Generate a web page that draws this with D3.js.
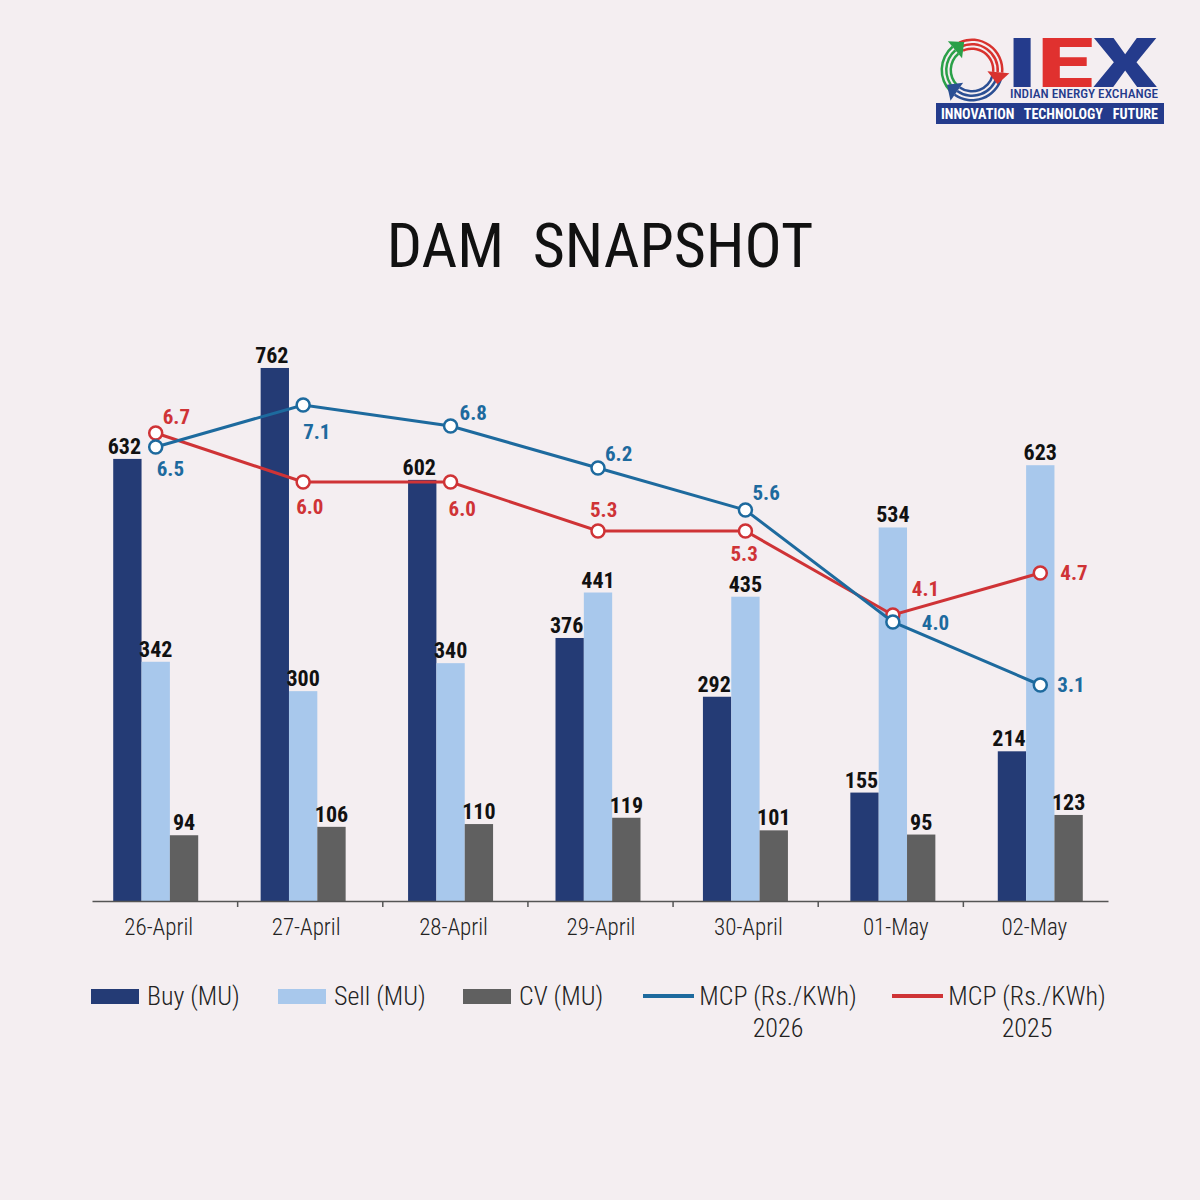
<!DOCTYPE html>
<meta charset="utf-8">
<style>
body{margin:0;background:#f4eef1;}
text{font-family:"Roboto Condensed","Roboto",sans-serif;font-stretch:75%;}
.val{font-weight:700;font-size:22px;fill:#111;text-anchor:middle;}
.mcp{font-weight:700;font-size:21px;dominant-baseline:central;}
.cat{font-size:23px;font-weight:300;fill:#222;text-anchor:middle;}
.leg{font-size:26px;font-weight:300;fill:#222;}
.title{font-size:62px;fill:#111;text-anchor:middle;white-space:pre;}
.axis path,.axis line{stroke:#555;stroke-width:1.5px;}
</style>
<body>
<script src="https://d3js.org/d3.v7.min.js"></script>
<script>

var categories=["26-April","27-April","28-April","29-April","30-April","01-May","02-May"];
var buy=[632,762,602,376,292,155,214];
var sell=[342,300,340,441,435,534,623];
var cv=[94,106,110,119,101,95,123];
var mcp2026=[6.5,7.1,6.8,6.2,5.6,4.0,3.1];
var mcp2025=[6.7,6.0,6.0,5.3,5.3,4.1,4.7];
var barSeries=["Buy (MU)","Sell (MU)","CV (MU)"];
var lineSeries=["MCP (Rs./KWh) 2026","MCP (Rs./KWh) 2025"];

var barColor=["#243b75","#a8c8ec","#606060"];
var blue="#1d6a9e", red="#cf3336";

var svg=d3.select("body").append("svg").attr("width",1200).attr("height",1200);
svg.append("rect").attr("width",1200).attr("height",1200).attr("fill","#f4eef1");

// title
svg.append("text").attr("class","title").attr("x",600).attr("y",267).text("DAM  SNAPSHOT");

// scales
var x=d3.scaleBand().domain(categories).range([82,1114]);
var xs=d3.scaleBand().domain([0,1,2]).range([-42.5,42.5]);
var y=d3.scaleLinear().domain([0,800]).range([901,341.4]);
var y2=d3.scaleLinear().domain([0,8]).range([902,342]);
var xEdge=d3.scaleLinear().domain([0,7]).range([92,1108]);
var cx=function(c){return x(c)+x.bandwidth()/2;};

// bars
var barData=[buy,sell,cv];
barData.forEach(function(vals,s){
	var g=svg.append("g");
	g.selectAll("rect").data(vals).enter().append("rect")
		.attr("x",(d,i)=>cx(categories[i])+xs(s))
		.attr("width",xs.bandwidth())
		.attr("y",d=>y(d))
		.attr("height",d=>y(0)-y(d))
		.attr("fill",barColor[s]);
	g.selectAll("text").data(vals).enter().append("text").attr("class","val")
		.attr("x",(d,i)=>cx(categories[i])+xs(s)+xs.bandwidth()/2-(s==0?3:0))
		.attr("y",d=>y(d)-5)
		.text(d=>d);
});

// x axis
svg.append("g").attr("class","axis").attr("transform","translate(0,901)")
	.call(d3.axisBottom(xEdge).tickValues(d3.range(1,7)).tickSize(6).tickSizeOuter(0).tickFormat(""));
svg.selectAll(".cat").data(categories).enter().append("text").attr("class","cat")
	.attr("x",(d,i)=>cx(d)+(i==6?-6:3)).attr("y",935).text(d=>d);

// lines
var line=d3.line().x((d,i)=>cx(categories[i])).y(d=>y2(d));
// label offsets [dx, dy] from the point, text anchored at start
var pos2026=[[1,22],[0,27],[9,-13],[7,-14],[7,-17],[29,1],[17,0]];
var pos2025=[[7,-16],[-7,25],[-2,27],[-8,-21],[-15,23],[19,-26],[20,0]];

function drawLine(vals,col,pos){
	var g=svg.append("g");
	g.append("path").datum(vals).attr("d",line).attr("fill","none")
		.attr("stroke",col).attr("stroke-width",3);
	return {g:g,vals:vals,col:col,pos:pos};
}
var L=[drawLine(mcp2025,red,pos2025),drawLine(mcp2026,blue,pos2026)];
L.forEach(function(l){
	l.g.selectAll("circle").data(l.vals).enter().append("circle")
		.attr("cx",(d,i)=>cx(categories[i])).attr("cy",d=>y2(d)).attr("r",6.5)
		.attr("fill","#fff").attr("stroke",l.col).attr("stroke-width",2.5);
	l.g.selectAll("text").data(l.vals).enter().append("text").attr("class","mcp")
		.attr("x",(d,i)=>cx(categories[i])+l.pos[i][0])
		.attr("y",(d,i)=>y2(d)+l.pos[i][1])
		.attr("fill",l.col)
		.text(d=>d3.format(".1f")(d));
});

// legend
var leg=svg.append("g");
var barLegX=[91,278,463];
barSeries.forEach(function(s,i){
	leg.append("rect").attr("x",barLegX[i]).attr("y",989).attr("width",48).attr("height",15).attr("fill",barColor[i]);
	leg.append("text").attr("class","leg").attr("x",barLegX[i]+56).attr("y",1005).text(s);
});
var lineLegX=[643,892];
[blue,red].forEach(function(col,i){
	var x0=lineLegX[i];
	leg.append("line").attr("x1",x0).attr("x2",x0+51).attr("y1",996).attr("y2",996)
		.attr("stroke",col).attr("stroke-width",4);
	var t=leg.append("text").attr("class","leg").attr("text-anchor","middle");
	var parts=lineSeries[i].split(" ");
	t.append("tspan").attr("x",x0+135).attr("y",1005).text(parts[0]+" "+parts[1]);
	t.append("tspan").attr("x",x0+135).attr("y",1037).text(parts[2]);
});

// logo
var logo=svg.append("g");
var em=logo.append("g").attr("transform","translate(972,70)");
var arc=d3.arc();
function stripes(a0,a1,col){
	[0,1,2].forEach(function(k){
		em.append("path").attr("d",arc({innerRadius:20+k*4.5,outerRadius:22.5+k*4.5,startAngle:a0,endAngle:a1}))
			.attr("fill",col);
	});
}
var rad=Math.PI/180;
stripes(-25*rad,95*rad,"#d8322e");
stripes(105*rad,215*rad,"#2b4f93");
stripes(225*rad,320*rad,"#2aa048");
function head(a,col){
	var r=26.5, px=r*Math.sin(a), py=-r*Math.cos(a);
	var tx=Math.cos(a), ty=Math.sin(a);
	var nx=Math.sin(a), ny=-Math.cos(a);
	em.append("path").attr("d","M"+(px+nx*11)+","+(py+ny*11)+"L"+(px-nx*11)+","+(py-ny*11)+"L"+(px+tx*12)+","+(py+ty*12)+"Z")
		.attr("fill",col);
}
head(95*rad,"#d8322e");
head(215*rad,"#2b4f93");
head(320*rad,"#2aa048");
logo.append("text").attr("x",1007).attr("y",87).attr("font-size",68).attr("font-weight",900)
	.style("font-family","'Roboto','Liberation Sans',sans-serif").style("font-stretch","100%")
	.attr("textLength",150).attr("lengthAdjust","spacingAndGlyphs")
	.selectAll("tspan").data([["I","#243b8c"],["E","#e0312f"],["X","#243b8c"]]).enter().append("tspan")
	.attr("fill",d=>d[1]).text(d=>d[0]);
logo.append("text").attr("x",1010).attr("y",98).attr("font-size",13).attr("font-weight",500)
	.attr("fill","#243b8c").attr("textLength",148).attr("lengthAdjust","spacingAndGlyphs")
	.text("INDIAN ENERGY EXCHANGE");
logo.append("rect").attr("x",936).attr("y",103).attr("width",228).attr("height",21).attr("fill","#243b8c");
logo.append("text").attr("x",941).attr("y",119).attr("font-size",15).attr("font-weight",700)
	.attr("fill","#fff").attr("textLength",217).attr("lengthAdjust","spacingAndGlyphs")
	.style("white-space","pre").text("INNOVATION   TECHNOLOGY   FUTURE");
</script>
</body>
</html>
